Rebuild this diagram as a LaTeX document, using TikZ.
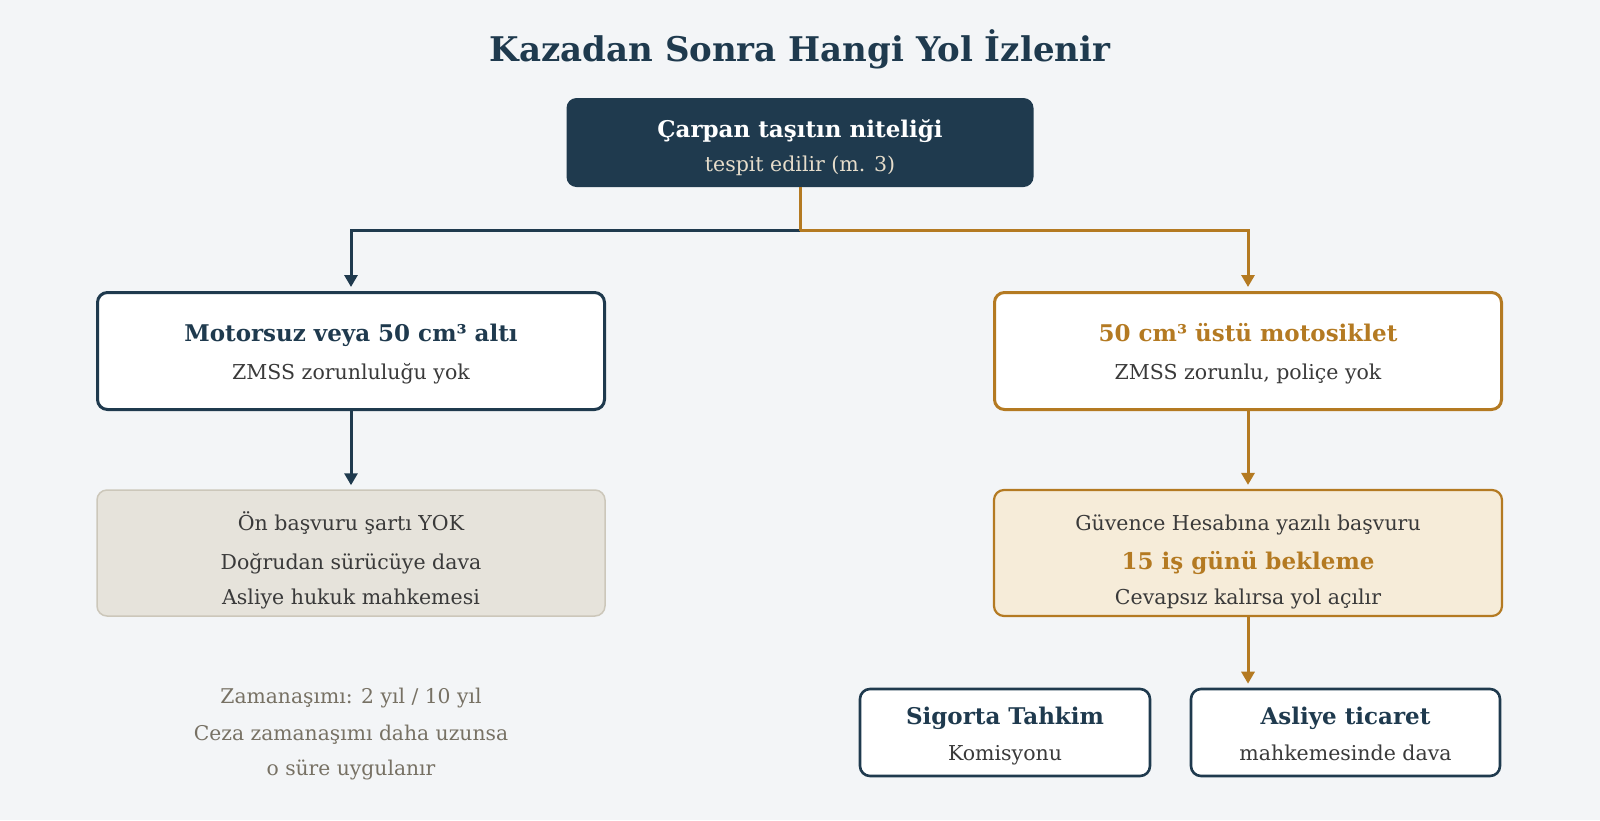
\documentclass[tikz,border=0pt]{standalone}
\usepackage{fontspec}
\setmainfont{DejaVu Serif}
\usetikzlibrary{arrows.meta}
\definecolor{navy}{HTML}{1F3A4E}
\definecolor{gold}{HTML}{B47A22}
\definecolor{bg}{HTML}{F3F5F7}
\definecolor{ink}{HTML}{3A3A3A}
\definecolor{note}{HTML}{777164}
\definecolor{beige}{HTML}{E6E3DB}
\definecolor{beigeline}{HTML}{CCC7BA}
\definecolor{cream}{HTML}{F6ECD9}
\definecolor{subtxt}{HTML}{E6DDCB}
\begin{document}
\begin{tikzpicture}[x=1pt,y=-1pt,
  box/.style={rectangle, rounded corners=10pt, inner sep=0pt},
  bigbox/.style={box, minimum width=507pt, minimum height=117pt},
  midbox/.style={box, minimum width=508pt, minimum height=126pt},
  navybox/.style={draw=navy, line width=3pt, fill=white},
  goldbox/.style={draw=gold, line width=3pt, fill=white},
  headtxt/.style={anchor=base, font=\fontsize{23}{26}\selectfont\bfseries},
  bodytxt/.style={anchor=base, font=\fontsize{20.5}{24}\selectfont, text=ink},
  notetxt/.style={anchor=base, font=\fontsize{20.3}{24}\selectfont, text=note},
  conn/.style={line width=3pt, -{Triangle[width=13pt,length=12pt]}, shorten >=4pt},
  plain/.style={line width=3pt}]
\fill[bg] (0,0) rectangle (1600,820);
\useasboundingbox (0,0) rectangle (1600,820);

\node[anchor=base, font=\fontsize{34}{40}\selectfont\bfseries, text=navy] (title) at (800,61) {Kazadan Sonra Hangi Yol İzlenir};

% top box
\node[box, fill=navy, minimum width=467pt, minimum height=89pt] (top) at (800,142.5) {};
\node[headtxt, text=white] (topt) at (800,137) {Çarpan taşıtın niteliği};
\node[bodytxt, text=subtxt] (tops) at (800,171) {tespit edilir (m. 3)};

% left column
\node[bigbox, navybox] (lb1) at (351,351) {};
\node[headtxt, text=navy] (lb1t) at (351,341) {Motorsuz veya 50 cm³ altı};
\node[bodytxt] (lb1s) at (351,379) {ZMSS zorunluluğu yok};

\node[midbox, draw=beigeline, line width=1.5pt, fill=beige] (lb2) at (351,553) {};
\node[bodytxt] (lb2a) at (351,530) {Ön başvuru şartı YOK};
\node[bodytxt] (lb2b) at (351,569) {Doğrudan sürücüye dava};
\node[bodytxt] (lb2c) at (351,604) {Asliye hukuk mahkemesi};

\node[notetxt] (n1) at (351,703) {Zamanaşımı: 2 yıl / 10 yıl};
\node[notetxt] (n2) at (351,740) {Ceza zamanaşımı daha uzunsa};
\node[notetxt] (n3) at (351,775) {o süre uygulanır};

% right column
\node[bigbox, goldbox] (rb1) at (1248,351) {};
\node[headtxt, text=gold] (rb1t) at (1248,341) {50 cm³ üstü motosiklet};
\node[bodytxt] (rb1s) at (1248,379) {ZMSS zorunlu, poliçe yok};

\node[midbox, draw=gold, line width=2.2pt, fill=cream] (rb2) at (1248,553) {};
\node[bodytxt] (rb2a) at (1248,530) {Güvence Hesabına yazılı başvuru};
\node[headtxt, text=gold] (rb2b) at (1248,569) {15 iş günü bekleme};
\node[bodytxt] (rb2c) at (1248,604) {Cevapsız kalırsa yol açılır};

\node[box, navybox, line width=2.6pt, minimum width=290pt, minimum height=87pt] (st) at (1005,732.5) {};
\node[headtxt, text=navy] (stt) at (1005,724) {Sigorta Tahkim};
\node[bodytxt] (sts) at (1005,760) {Komisyonu};

\node[box, navybox, line width=2.6pt, minimum width=309pt, minimum height=87pt] (at) at (1345.5,732.5) {};
\node[headtxt, text=navy] (att) at (1345.5,724) {Asliye ticaret};
\node[bodytxt] (ats) at (1345.5,760) {mahkemesinde dava};

% connectors
\coordinate (j) at (800,230.5);
\coordinate (jl) at (351,230.5);
\coordinate (jr) at (1248,230.5);
\draw[conn, navy] (j) -- (jl) -- (lb1.north);
\draw[plain, gold] (top.south) -- (j);
\draw[conn, gold] (j) -- (jr) -- (rb1.north);
\draw[conn, navy] (lb1.south) -- (lb2.north);
\draw[conn, gold] (rb1.south) -- (rb2.north);
\draw[conn, gold] (rb2.south) -- (rb2.south |- at.north);
\end{tikzpicture}
\end{document}
